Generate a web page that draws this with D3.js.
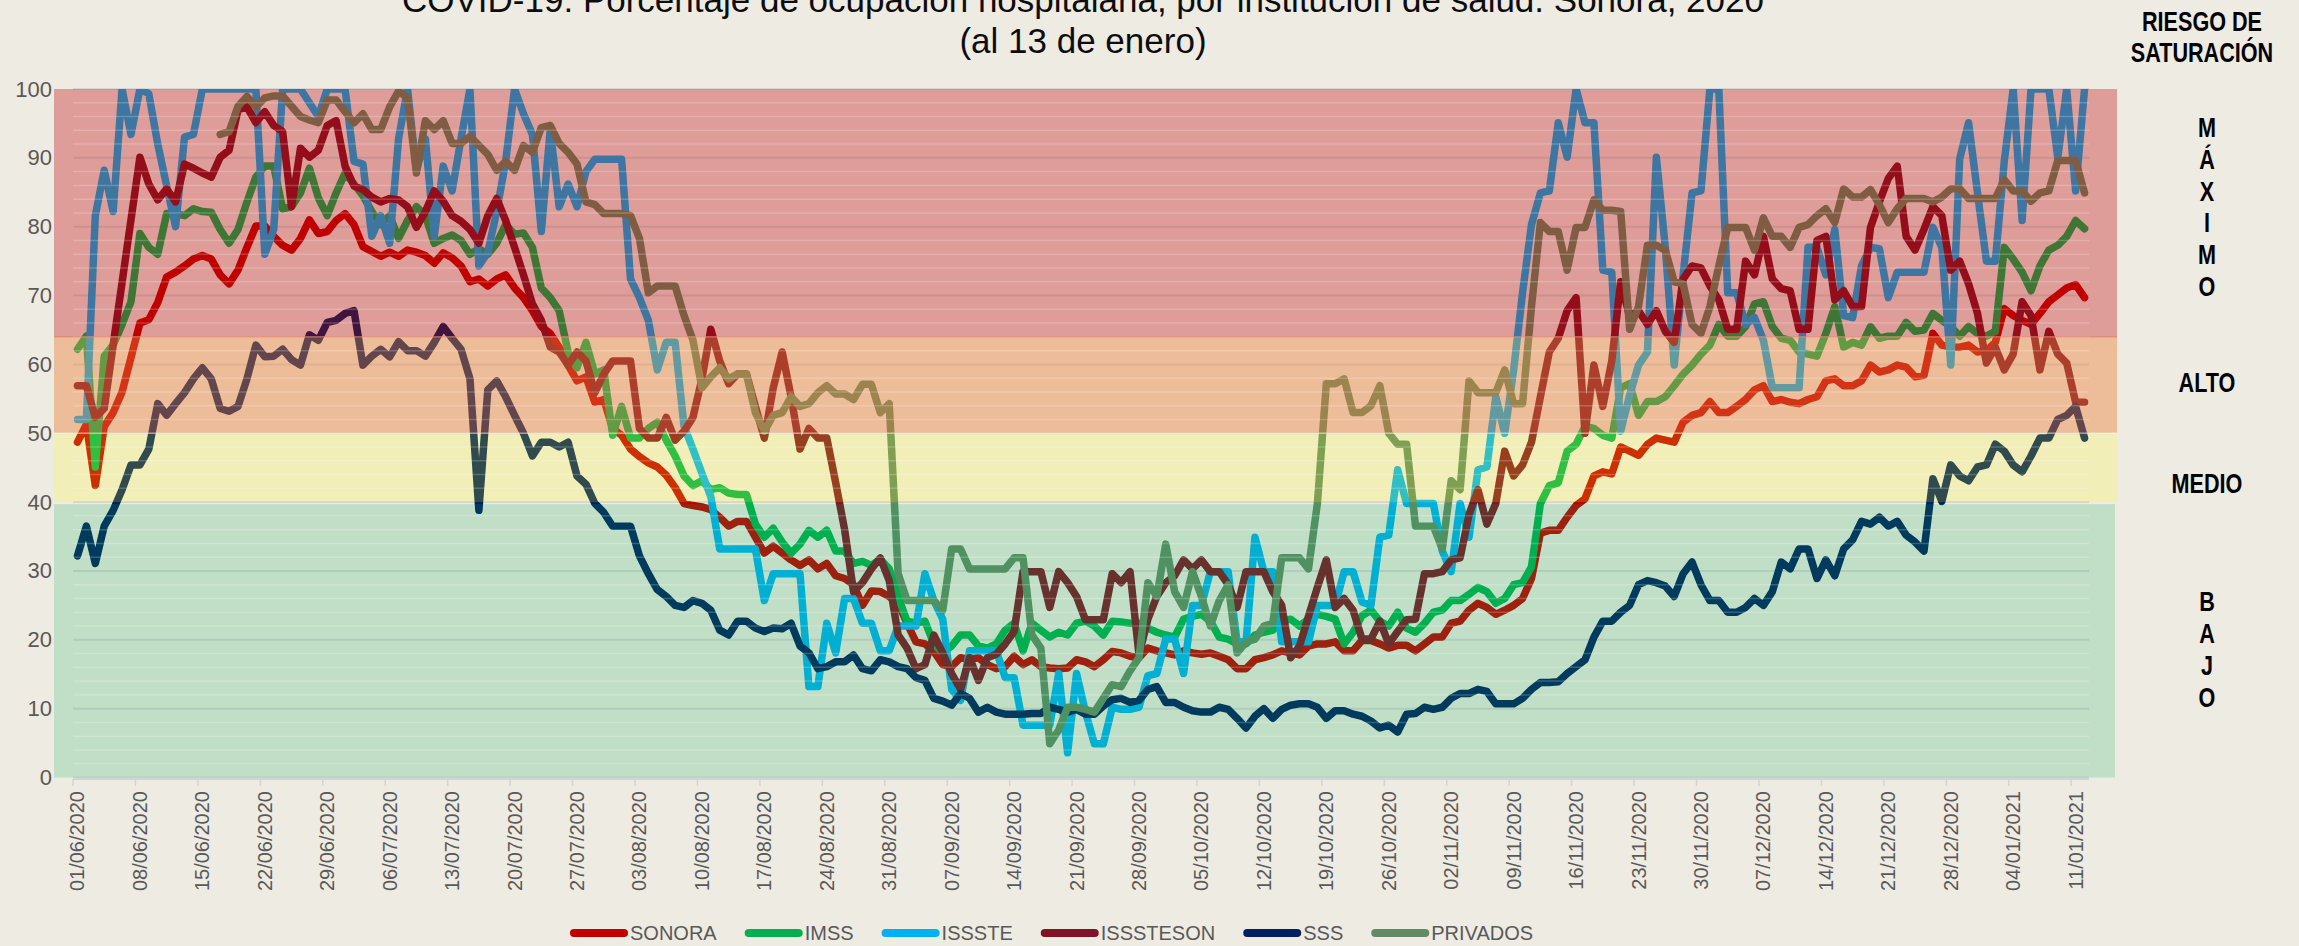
<!DOCTYPE html>
<html>
<head>
<meta charset="utf-8">
<title>COVID-19 Sonora ocupación hospitalaria</title>
<script src="https://cdn.jsdelivr.net/npm/d3@7"></script>
<style>
  body { margin: 0; background: #eeebe3; }
  svg { display: block; font-family: "Liberation Sans", Arial, sans-serif; }
</style>
</head>
<body>
<div id="chart"></div>
<script>
// daily values, 01/06/2020 .. 12/01/2021
const sonora = [48.7,51.3,42.4,51,53,56,61,66,66.5,69,72.7,73.4,74.3,75.3,75.8,75.3,73,71.7,73.7,77,80.1,80.1,78.6,77.3,76.6,78.3,81,79,79.3,
  80.9,81.9,80.3,77.1,76.4,75.7,76.3,75.7,76.6,76.3,75.8,74.7,76.2,75.5,74.3,72,72.4,71.4,72.4,73,71.1,69.7,67.8,65.5,64.5,62.5,59.9,57.6,58.2,
  54.5,54.9,50.7,49.7,47.7,46.6,45.7,45.1,43.9,42.1,39.8,39.5,39.3,38.9,37.8,36.5,37.2,37.2,34.9,32.6,33.6,32.6,31.6,30.8,31.6,30.3,31.1,29.3,28.9,
  28,25,27.1,27,26.3,25.3,22.4,19.7,19.4,18.3,16.4,16.1,17.4,17.1,17.4,16.4,15.8,16.1,17.6,16.4,17.1,16.1,15.9,15.8,15.9,17.1,16.8,16.1,17.1,18.3,
  18.1,17.6,17.4,18.8,18.4,18.1,17.8,18.4,18.1,17.9,18.1,17.6,17.1,15.8,15.8,17.1,17.4,17.8,18.4,18.1,17.8,19.1,19.4,19.4,19.7,18.4,18.4,19.9,19.9,
  19.4,18.8,19.2,19.2,18.4,19.4,20.4,20.4,22.4,22.7,24.3,25.3,24.7,23.7,24.3,25,26,28.9,35.5,35.9,35.9,37.8,39.5,40.5,43.8,44.4,44.1,48,47.4,
  46.8,48.4,49.3,49,48.7,51.6,52.6,53,54.6,53,53,53.9,54.9,56.3,56.9,54.6,54.9,54.5,54.3,54.9,55.3,57.6,57.9,56.9,56.9,57.6,59.9,58.9,59.2,
  59.9,59.6,58.2,58.4,64.5,62.8,62.5,62.5,62.8,61.8,62,63.2,68.1,67.1,66.4,65.8,67.4,69.1,70.1,71.1,71.6,69.7];

const imss = [62.2,64.1,45.1,61.2,62.8,65.8,69.1,79,77,76,81.9,81.9,81.6,82.6,82.2,82.1,79.6,77.6,79.6,83.6,87.2,88.8,88.8,82.6,82.9,84.9,88.5,84.2,81.6,
  84.9,87.8,86.2,84.5,82.2,80.3,81.6,78.3,80.9,82.9,81.6,77.6,78.3,78.8,78,76,76.8,76,77.6,80.3,78.9,79.1,77,71.1,69.7,67.8,61.8,59.5,63.2,
  58.6,59.2,49.7,53.9,49.3,49.3,50.7,51.6,49,46.7,43.8,42.4,43.1,41.8,42.1,41.3,41.1,41.1,36.8,34.9,36.2,34.2,32.6,33.9,35.9,34.9,35.9,32.9,32.9,
  31.1,31.4,30.8,31.7,30.3,26.3,22.7,22.4,22.7,19.4,18.1,19.1,20.7,20.7,19.1,18.8,19.4,21.4,22.4,18.4,22.4,21.4,20.4,21.1,20.7,22.4,22.7,22,20.7,22.7,
  22.6,22.4,22.4,21.7,21.1,20.7,20.4,23,23.4,23.7,22.7,20.4,20.1,19.4,19.4,20.7,21.1,21.4,22.7,23,22,23,23.7,23.4,23,19.4,21.1,23.5,24.3,
  22.7,22,24,21.7,21.1,22.4,24,24.3,25.7,25.7,26.6,27.6,27,25.3,26,28,28.3,30.6,39.8,42.4,42.8,47.4,48.4,51,50.7,49.7,49.3,56.6,57.2,
  52.6,54.6,54.6,55.3,56.9,58.6,59.9,61.5,62.8,65.8,64.1,64.1,65.5,68.8,69.1,65.5,63.8,63.5,61.8,61.5,61.2,64.5,68.4,62.5,63.2,62.8,65.5,63.8,64.1,
  64.1,66.1,64.8,65,67.4,66.4,65.5,64.1,65.5,64.5,64.1,64.8,77,75.3,73.4,70.7,74.3,76.6,77.3,78.6,80.9,79.7];

const issste = [52,52,81.6,88.2,82.2,100,93.4,100,99.3,92,85.9,80,93,93.4,100,100,100,100,100,100,100,76,79.6,100,100,100,98,96,100,
  100,100,89.5,89.1,78.6,81.6,77.6,92.8,100,88.2,92.8,78.6,88.8,85.2,92.8,100,74.3,76.3,82.2,89.5,100,96.4,93.4,79.3,94.1,82.9,86.2,82.9,88,
  89.8,89.8,89.8,89.8,72.4,69.7,66.4,59.2,63.2,63.2,51,47.7,44.2,40.8,33.2,33.2,33.2,33.2,33.2,25.7,29.6,29.6,29.6,29.6,13.2,13.2,22.4,18.1,26,
  26,22.4,22.4,18.4,18.4,22,22,22,29.6,25.7,23,12.8,11.2,18.4,18.4,18.4,18.4,14.5,14.5,7.6,7.6,7.6,7.6,15.1,3.6,15.1,9.5,4.9,4.9,10.2,
  9.9,9.9,10.2,14.8,15.1,20.1,20.1,15.1,25,25,29.9,29.9,29.9,19.7,19.7,34.9,29.9,29.9,19.7,19.7,19.7,19.7,25,25,25,29.9,29.9,25.5,25,
  34.9,35.2,44.7,39.8,39.8,39.8,39.8,32.9,29.9,39.8,34.9,44.7,45.1,55.3,50,59.2,70.4,80.3,84.9,85.2,95.1,90.1,100,95.1,95.1,73.7,73.4,50.3,55.5,
  59.9,61.8,90.1,77,59.9,73,84.9,85.2,100,100,70.4,70.4,65.8,66.8,63.5,56.6,56.6,56.6,56.6,77,77,73,79.6,67.1,66.8,74.3,77,76.8,69.7,
  73.4,73.4,73.4,73.4,79.9,77,59.9,89.8,95.1,84.9,75,75,89.5,100,80.9,100,100,100,90,100,85.2,100];

const isssteson = [56.9,56.9,52.3,53.6,62.8,71.9,81,90.1,86.2,83.9,85.5,83.6,89.1,88.5,87.8,87.2,90.1,91.1,97,97.4,95.1,96.7,94.7,93.8,82.9,91.4,90.1,91.1,94.7,
  95.4,88.8,85.9,85.4,84.3,83.6,84.1,83.9,82.9,79.9,82.2,85.2,83.7,81.6,80.8,79.6,77.6,81.6,84.1,80.9,77,73,68.8,66.4,62.5,61.8,59.9,61.8,60.5,
  55.9,58.6,60.5,60.5,60.5,50.7,49.3,49.3,52.3,49,50.3,52.3,57.9,65.1,60.5,57.2,58.6,58.6,53.9,49.3,56.6,61.8,55.3,47.7,50.7,49.3,49.3,42.8,36,
  27,28.3,30.3,31.9,28.6,20.7,18.8,15.8,16.4,20.7,18.1,15.1,12.8,17.4,14.1,17.4,17.9,19.4,21.2,29.9,29.9,29.9,24.7,29.9,28.3,26.3,22.9,22.9,22.9,29.6,
  28.3,29.9,17.8,23,26.3,28.3,29.3,31.6,30.3,31.6,29.9,29.9,28,24.7,29.9,29.9,29.9,27,25,17.4,19.1,23.4,27.6,31.6,24.7,26,24.3,20.1,20.1,
  22.7,19.4,21.2,22.9,23,29.6,29.6,29.9,31.6,31.9,38.2,41.8,36.8,39.8,47.4,43.8,45.4,48.7,55.3,61.8,63.8,67.8,69.7,50,59.9,53.9,60.5,72,67,
  67.8,65.8,67.8,64.8,63.2,72.4,74.3,74,71.4,69.4,65.1,65.1,75,73,78.6,72.4,71,70.7,65.1,65.1,78,78.6,69.4,70.7,68.4,68.4,79.9,83.6,87,
  88.8,78.6,76.6,79.6,82.9,81.6,73.7,75,71.7,67.4,60.2,62.5,59.2,61.5,69.1,67.1,59.2,64.8,61.5,60.2,54.5,54.5];

const sss = [32.2,36.5,31.1,36.5,38.8,41.8,45.4,45.4,47.7,54.3,52.6,54.3,55.9,57.9,59.5,57.9,53.6,53.2,53.9,57.9,62.8,61.1,61.2,62.2,60.7,59.9,64.3,63.5,66.1,
  66.4,67.4,67.8,59.9,61.2,62.2,61.1,63.3,62,62,61.2,63.2,65.5,63.8,62.2,57.9,38.8,56.3,57.6,55.3,52.6,50,46.7,48.7,48.7,48,48.7,43.8,42.6,
  39.8,38.5,36.5,36.5,36.5,32.2,29.6,27.3,26.3,25,24.7,25.7,25.3,24.3,21.4,20.7,22.7,22.7,21.7,21.2,21.7,21.6,22.4,19.1,18.1,15.8,16.1,16.8,16.8,
  17.8,15.8,15.5,17.1,16.8,16.1,15.8,14.5,14.1,11.5,11.1,10.5,12.2,11.5,9.5,10.2,9.5,9.2,9.2,9.2,9.3,9.3,10.2,9.9,9.5,9.9,9.2,9.2,10.4,11.3,
  11.5,10.9,11.2,12.8,13.2,10.9,10.9,10.2,9.7,9.5,9.5,10.2,9.9,8.6,7.2,8.9,10,8.6,9.9,10.5,10.7,10.7,10.2,8.6,9.7,9.7,9.2,8.9,8.2,
  7.2,7.6,6.6,9.2,9.3,10.2,9.9,10.2,11.5,12.2,12.2,12.8,12.5,10.7,10.7,10.7,11.5,12.8,13.8,13.8,13.9,15.1,16.1,17.1,20.4,22.7,22.7,24,25,
  28,28.6,28.3,27.8,26.3,29.6,31.3,28,25.7,25.7,24,24,24.7,26,25,27,31.3,30.3,33.2,33.2,28.9,31.6,29.3,33.2,34.5,37.2,36.8,37.8,36.5,
  37.2,35.2,34.2,32.9,43.4,40.1,45.4,43.8,43.1,45.1,45.4,48.4,47.4,45.4,44.4,46.7,49.3,49.3,52,52.6,53.9,49.3];

const privados = [null,null,null,null,null,null,null,null,null,null,null,null,null,null,null,null,
  93.4,93.8,97.5,98.9,97.4,98.7,99,99,97.5,96,95.5,95.1,98.4,
  98.4,96.7,95.1,96.4,94.1,94.1,97.4,99.7,98.7,87.8,95.4,94.1,95.4,92.1,92.1,93.1,91.8,90.5,88.2,89.5,88.2,91.8,90.8,94.4,94.7,92.1,90.8,89.1,83.6,
  83.2,81.9,81.9,81.9,81.6,78.3,70.4,71.4,71.4,71.4,67.1,63.5,56.6,58.2,59.5,57.9,58.6,58.6,53,50.3,52.6,53,55.3,53.9,54.3,55.9,56.9,55.7,55.7,
  54.9,57.1,57.1,53,54.3,29.6,25.7,25.7,25.7,25.7,24.3,33.2,33.2,30.3,30.3,30.3,30.3,30.3,31.9,31.9,20.7,18.8,4.9,6.9,10.2,10.2,9.9,9.5,11.5,13.5,
  13.2,15.5,17.4,28.3,26.3,33.9,27,24.7,29.9,26.3,22,25.7,28,18.1,19.7,20.1,22,22.4,31.9,31.9,31.9,30.3,39.8,57.2,57.2,57.9,53,53,54,
  56.9,50,48.4,48.4,36.5,36.5,36.5,33.2,43.1,41.8,57.6,55.9,55.9,55.9,59.2,54.3,54.3,68.4,80.6,79.3,79.3,73.7,79.9,79.9,83.9,82.4,82.4,82.2,65.1,
  68.4,77.3,77.3,76.6,72,71.7,65.8,64.5,68.4,74.3,79.9,79.9,79.9,76.6,81.3,78.6,78.6,77,79.9,80.3,81.6,82.6,80.6,85.5,84.3,84.3,85.4,83.2,80.6,
  82.6,84.1,84.1,84.1,83.6,84.3,85.5,85.5,84.1,84.1,84.1,84.1,86.8,85.2,85.2,83.7,84.9,85.2,89.6,89.6,89.6,84.9];

const seriesNames = ["SONORA", "IMSS", "ISSSTE", "ISSSTESON", "SSS", "PRIVADOS"];
const seriesColors = ["#c00000", "#00b050", "#00b0f0", "#7f1427", "#002060", "#628a65"];
const seriesValues = [sonora, imss, issste, isssteson, sss, privados];

// risk bands (percent ranges)
const bandRanges = [[64, 100], [50, 64], [40, 50], [0, 40]];
const bandColors = ["rgb(192,0,0)", "rgb(237,125,49)", "rgb(255,255,0)", "rgb(0,176,80)"];
const bandOpacity = [0.33, 0.42, 0.19, 0.19];

const titleLines = ["COVID-19: Porcentaje de ocupación hospitalaria, por institución de salud. Sonora, 2020", "(al 13 de enero)"];

const W = 2299, H = 946;
const days = d3.timeDay.range(new Date(2020, 5, 1), new Date(2021, 0, 13)).map(d3.timeFormat("%d/%m/%Y"));

const x = d3.scaleBand().domain(days).range([73, 2089]).padding(0);
const y = d3.scaleLinear().domain([0, 100]).range([777.5, 89]);
const cx = i => x(days[i]) + x.bandwidth() / 2;

const svg = d3.select("#chart").append("svg")
    .attr("width", W)
    .attr("height", H);

// major gridlines (under the bands)
svg.append("g")
   .selectAll("line")
   .data(d3.range(0, 101, 10))
   .join("line")
   .attr("x1", 73).attr("x2", 2089)
   .attr("y1", d => y(d)).attr("y2", d => y(d))
   .attr("stroke", "#d6d6d6")
   .attr("stroke-width", 2);

svg.append("clipPath").attr("id", "plotclip")
   .append("rect")
   .attr("x", 54).attr("y", y(100))
   .attr("width", 2063).attr("height", y(0) - y(100) + 6);

const line = d3.line()
    .defined(d => d != null)
    .x((d, i) => cx(i))
    .y(d => y(d));

svg.append("g")
   .attr("clip-path", "url(#plotclip)")
   .selectAll("path")
   .data(seriesValues)
   .join("path")
   .attr("d", d => line(d))
   .attr("fill", "none")
   .attr("stroke", (d, i) => seriesColors[i])
   .attr("stroke-width", 7.5)
   .attr("stroke-linejoin", "round")
   .attr("stroke-linecap", "round");

// translucent risk bands on top of the lines
svg.append("g")
   .selectAll("rect")
   .data(bandRanges)
   .join("rect")
   .attr("x", 54)
   .attr("width", (d, i) => i === 3 ? 2061 : 2063)
   .attr("y", d => y(d[1]) + (d[0] === 0 ? 2 : 0))
   .attr("height", d => y(d[0]) - y(d[1]) - (d[0] === 0 ? 2 : 0))
   .attr("fill", (d, i) => bandColors[i])
   .attr("fill-opacity", (d, i) => bandOpacity[i]);

// faint minor lines
svg.append("g")
   .selectAll("line")
   .data(d3.range(2, 100, 2).filter(v => v % 10 !== 0))
   .join("line")
   .attr("x1", 73).attr("x2", 2089)
   .attr("y1", d => y(d)).attr("y2", d => y(d))
   .attr("stroke", "#ffffff")
   .attr("stroke-opacity", 0.2)
   .attr("stroke-width", 1.5);

svg.append("line")
   .attr("x1", 54).attr("x2", 2117)
   .attr("y1", y(64)).attr("y2", y(64))
   .attr("stroke", "#e0725c").attr("stroke-opacity", 0.5).attr("stroke-width", 1.5);
svg.append("line")
   .attr("x1", 54).attr("x2", 2117)
   .attr("y1", y(50)).attr("y2", y(50))
   .attr("stroke", "#ffffff").attr("stroke-opacity", 0.5).attr("stroke-width", 1.5);

// y axis labels
const yAxis = d3.axisLeft(y).tickValues(d3.range(0, 101, 10)).tickSize(0).tickPadding(5);
const gy = svg.append("g")
   .attr("transform", "translate(57,0)")
   .call(yAxis);
gy.select(".domain").remove();
gy.selectAll("text")
   .style("font-size", "22px")
   .style("font-family", "'Liberation Sans', Arial, sans-serif")
   .attr("fill", "#595959");

// x axis line, ticks and labels
const weekly = days.filter((d, i) => i % 7 === 0);
svg.append("line")
   .attr("x1", 73).attr("x2", 2089)
   .attr("y1", 779).attr("y2", 779)
   .attr("stroke", "#d4d4d4").attr("stroke-width", 2);
svg.append("g")
   .selectAll("line")
   .data(weekly)
   .join("line")
   .attr("x1", d => x(d)).attr("x2", d => x(d))
   .attr("y1", 779).attr("y2", 786)
   .attr("stroke", "#d4d4d4").attr("stroke-width", 1.5);

const xAxis = d3.axisBottom(x).tickValues(weekly).tickSize(0);
const gx = svg.append("g")
   .attr("transform", "translate(0,779)")
   .call(xAxis);
gx.select(".domain").remove();
gx.selectAll("text")
   .attr("transform", "rotate(-90)")
   .attr("x", -12)
   .attr("y", 0)
   .attr("dy", "0.35em")
   .style("text-anchor", "end")
   .style("font-size", "20px")
   .style("font-family", "'Liberation Sans', Arial, sans-serif")
   .attr("fill", "#595959");

// title
svg.append("g")
   .selectAll("text")
   .data(titleLines)
   .join("text")
   .attr("x", 1083)
   .attr("y", (d, i) => 12 + i * 41)
   .attr("text-anchor", "middle")
   .style("font-size", "35px")
   .attr("fill", "#0d0d0d")
   .text(d => d);

// right side: saturation risk labels
const rightLabels = [
  ["RIESGO DE", 2202, 31], ["SATURACIÓN", 2202, 62],
  ["M", 2207, 137], ["Á", 2207, 169], ["X", 2207, 201], ["I", 2207, 232], ["M", 2207, 264], ["O", 2207, 296],
  ["ALTO", 2207, 392], ["MEDIO", 2207, 493],
  ["B", 2207, 611], ["A", 2207, 643], ["J", 2207, 675], ["O", 2207, 707]
];
svg.append("g")
   .selectAll("text")
   .data(rightLabels)
   .join("text")
   .attr("transform", d => `translate(${d[1]},${d[2]}) scale(0.8,1)`)
   .attr("text-anchor", "middle")
   .style("font-size", "27px")
   .style("font-weight", "bold")
   .attr("fill", "#000")
   .text(d => d[0]);

// legend
const legend = svg.append("g");
let lx = 570;
seriesNames.forEach((name, i) => {
  legend.append("line")
     .attr("x1", lx + 4).attr("x2", lx + 54)
     .attr("y1", 933).attr("y2", 933)
     .attr("stroke", seriesColors[i])
     .attr("stroke-width", 8)
     .attr("stroke-linecap", "round");
  const t = legend.append("text")
     .attr("x", lx + 60)
     .attr("y", 933)
     .attr("dy", "0.35em")
     .style("font-size", "20px")
     .attr("fill", "#595959")
     .text(name);
  lx += 60 + t.node().getComputedTextLength() + 28;
});
</script>
</body>
</html>
